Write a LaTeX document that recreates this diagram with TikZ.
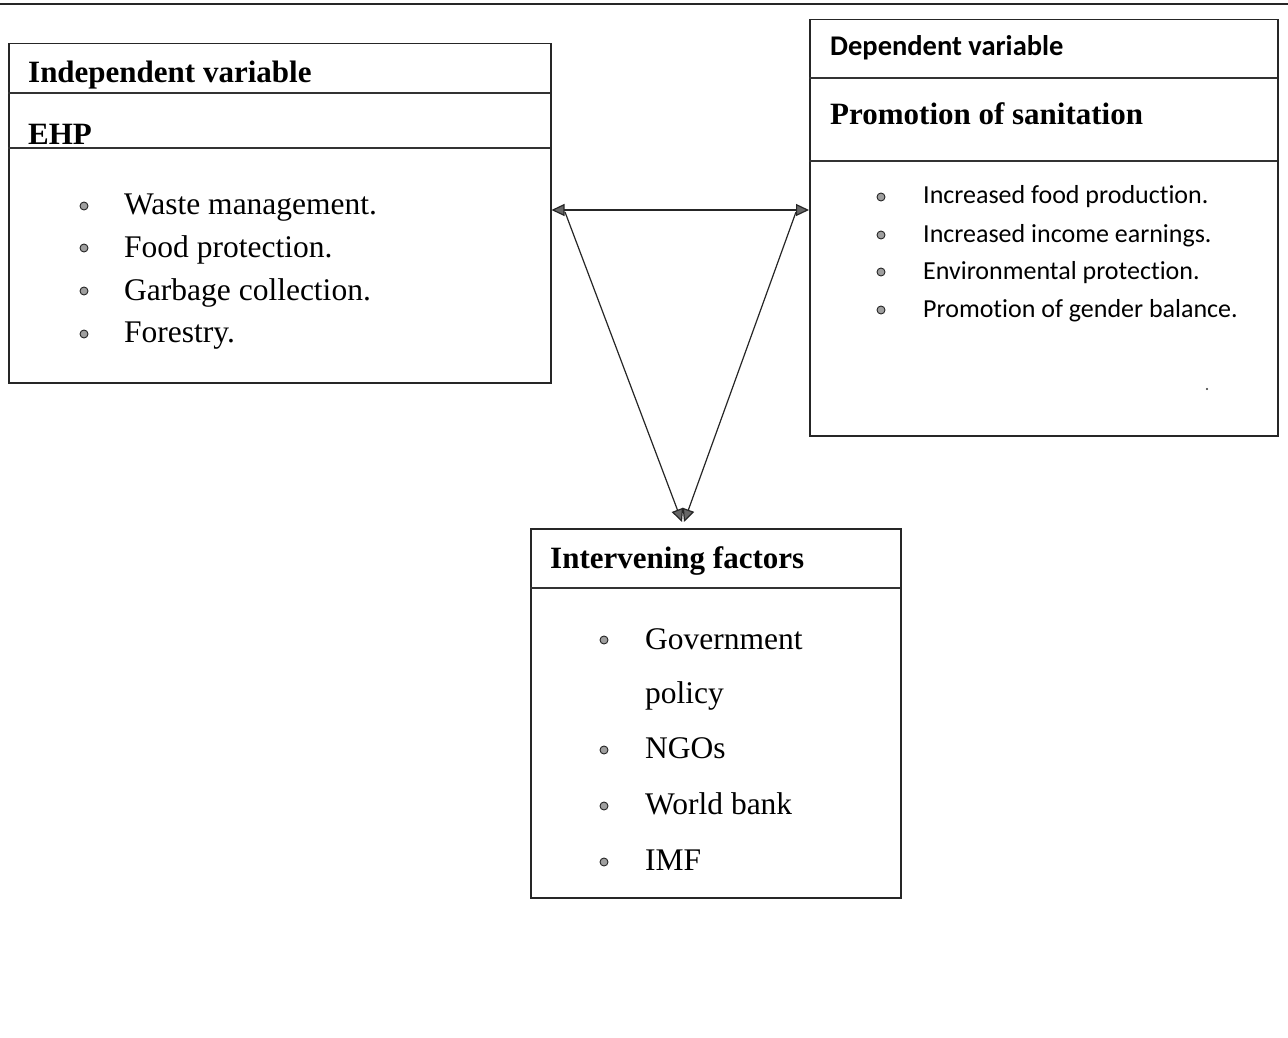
\documentclass[tikz,border=0pt]{standalone}
\usepackage{fontspec}
\setmainfont{Liberation Serif}
\newfontfamily\calibri[Ligatures=NoCommon]{Carlito}
\usetikzlibrary{arrows.meta}
\begin{document}
\begin{tikzpicture}[x=1pt,y=-1pt,
  box/.style={draw=black!85,line width=1.5pt},
  sep/.style={draw=black!80,line width=1.3pt},
  tnr/.style={anchor=base west,inner sep=0pt,font=\fontsize{31.5}{37}\selectfont},
  tnrb/.style={anchor=base west,inner sep=0pt,font=\fontsize{31}{36}\selectfont\bfseries},
  cal/.style={anchor=base west,inner sep=0pt,font=\calibri\fontsize{26}{30}\selectfont},
  calb/.style={anchor=base west,inner sep=0pt,font=\calibri\fontsize{28.5}{32}\selectfont\bfseries},
  bul/.style={circle,draw=black!85,fill=gray!75,line width=0.9pt,inner sep=0pt,minimum size=8pt},
  arr/.style={draw=black!85,line width=1.2pt,-{Triangle[length=13pt,width=12pt,fill=gray!80!black]}},
  dbl/.style={draw=black!85,line width=1.2pt,{Triangle[length=13pt,width=12pt,fill=gray!80!black]}-{Triangle[length=13pt,width=12pt,fill=gray!80!black]}}
]
\useasboundingbox (0,0) rectangle (1288,1038);
\fill[white] (0,0) rectangle (1288,1038);
% top rule
\draw[line width=2pt,black!85] (0,4) -- (1288,4);

% left box
\node[box,anchor=north west,minimum width=542pt,minimum height=339pt,inner sep=0pt] (lbox) at (8,43) {};
\draw[sep] (8,93) -- (550,93);
\draw[sep] (8,148) -- (550,148);
\node[tnrb] (lt) at (28,83) {Independent variable};
\node[tnrb] (ehp) at (28,145) {EHP};
\node[bul] (lb1) at (84,206) {};
\node[bul] (lb2) at (84,248) {};
\node[bul] (lb3) at (84,291) {};
\node[bul] (lb4) at (84,334) {};
\node[tnr] (l1) at (124,214) {Waste management.};
\node[tnr] (l2) at (124,257) {Food protection.};
\node[tnr] (l3) at (124,300) {Garbage collection.};
\node[tnr] (l4) at (124,342) {Forestry.};

% right box
\node[box,anchor=north west,minimum width=468pt,minimum height=416pt,inner sep=0pt] (rbox) at (809,19) {};
\draw[sep] (809,78) -- (1277,78);
\draw[sep] (809,161) -- (1277,161);
\node[calb] (rt) at (830,56) {Dependent variable};
\node[tnrb] (ps) at (830,125) {Promotion of sanitation};
\node[bul] (rb1) at (881,197) {};
\node[bul] (rb2) at (881,235) {};
\node[bul] (rb3) at (881,272) {};
\node[bul] (rb4) at (881,310) {};
\node[cal] (r1) at (923,204) {Increased food production.};
\node[cal] (r2) at (923,242) {Increased income earnings.};
\node[cal] (r3) at (923,279) {Environmental protection.};
\node[cal] (r4) at (923,317) {Promotion of gender balance.};
\fill[black!80] (1207,389) circle (1.2pt);

% bottom box
\node[box,anchor=north west,minimum width=370pt,minimum height=369pt,inner sep=0pt] (bbox) at (530,528) {};
\draw[sep] (530,588) -- (900,588);
\node[tnrb] (bt) at (550,568) {Intervening factors};
\node[bul] (bb1) at (604,640) {};
\node[bul] (bb3) at (604,750) {};
\node[bul] (bb4) at (604,806) {};
\node[bul] (bb5) at (604,862) {};
\node[tnr] (b1) at (645,649) {Government};
\node[tnr] (b2) at (645,703) {policy};
\node[tnr] (b3) at (645,758) {NGOs};
\node[tnr] (b4) at (645,814) {World bank};
\node[tnr] (b5) at (645,870) {IMF};

% connectors
\coordinate (hl) at (lbox.east |- 0,210);
\coordinate (hr) at (rbox.west |- 0,210);
\coordinate (dl) at (565,212);
\coordinate (dr) at (796,212);
\coordinate (tl) at (682,522);
\coordinate (tr) at (684,522);
\draw[dbl] (hl) -- (hr);
\draw[arr] (dl) -- (tl);
\draw[arr] (dr) -- (tr);
\end{tikzpicture}
\end{document}
